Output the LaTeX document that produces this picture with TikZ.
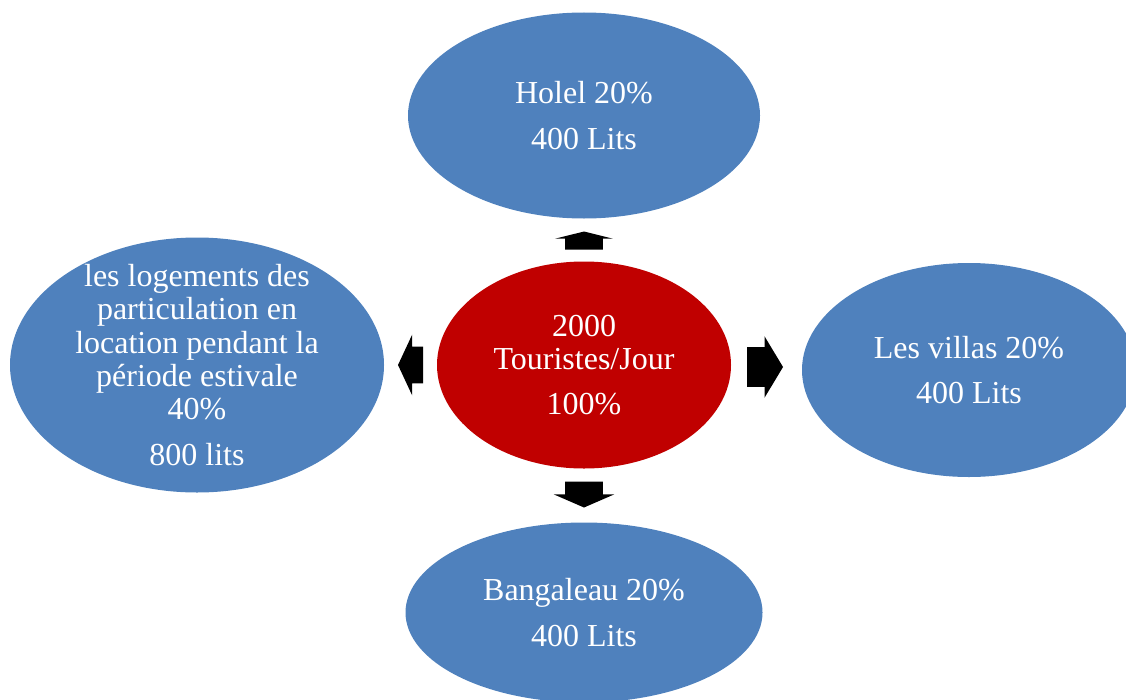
\documentclass[tikz,border=0pt]{standalone}
\usepackage{fontspec}
\setmainfont{Liberation Serif}
\usepackage{tikz}
\usetikzlibrary{positioning,calc,shapes.geometric,shapes.arrows}
\definecolor{OfficeBlue}{HTML}{4F81BD}
\definecolor{DarkRed}{HTML}{C00000}

\begin{document}
\begin{tikzpicture}[
x=0.75pt,y=0.75pt,
bubble/.style={ellipse,fill=OfficeBlue,draw=none,text=white,align=center,inner sep=0pt,outer sep=0pt,font=\fontsize{24}{25}\selectfont},
blockarr/.style={single arrow,fill=black,draw=none,inner xsep=0pt,outer sep=0pt,anchor=tail}
]
\useasboundingbox (0,0) rectangle (1126,-699);
\node[bubble,fill=DarkRed,minimum width=220.5pt,minimum height=155.25pt] (tourists) at (584,-365) {2000\\Touristes/Jour\\[9pt]100\%};
\node[bubble,minimum width=264pt,minimum height=154.5pt,above=32.25pt of tourists] (hotel) {Holel 20\%\\[9pt]400 Lits};
\node[bubble,minimum width=280.5pt,minimum height=191.25pt,inner ysep=-12pt,left=39.75pt of tourists] (logements) {les logements des\\particulation en\\location pendant la\\période estivale\\40\%\\[9pt]800 lits};
\node[bubble,minimum width=250.5pt,minimum height=160.5pt,right=53.25pt of tourists,yshift=-3.75pt] (villas) {Les villas 20\%\\[9pt]400 Lits};
\node[bubble,minimum width=267.75pt,minimum height=135pt,below=40.5pt of tourists] (bungalow) {Bangaleau 20\%\\[9pt]400 Lits};
\node[blockarr,rotate=90,inner ysep=13.875pt,single arrow head extend=7.5pt,minimum height=13.5pt,single arrow tip angle=152] (arrHotel) at ($(tourists.north)+(0,12)$) {};
\node[blockarr,rotate=180,inner ysep=13.5pt,single arrow head extend=9pt,minimum height=18.75pt,single arrow tip angle=130] (arrLogements) at ($(tourists.west)+(-14,0)$) {};
\node[blockarr,inner ysep=14.625pt,single arrow head extend=8.25pt,minimum height=27pt,single arrow tip angle=118] (arrVillas) at ($(tourists.east)+(16,-2)$) {};
\node[blockarr,rotate=-90,inner ysep=13.875pt,single arrow head extend=8.625pt,minimum height=19.5pt,single arrow tip angle=133] (arrBungalow) at ($(tourists.south)+(0,-13)$) {};
\end{tikzpicture}
\end{document}
